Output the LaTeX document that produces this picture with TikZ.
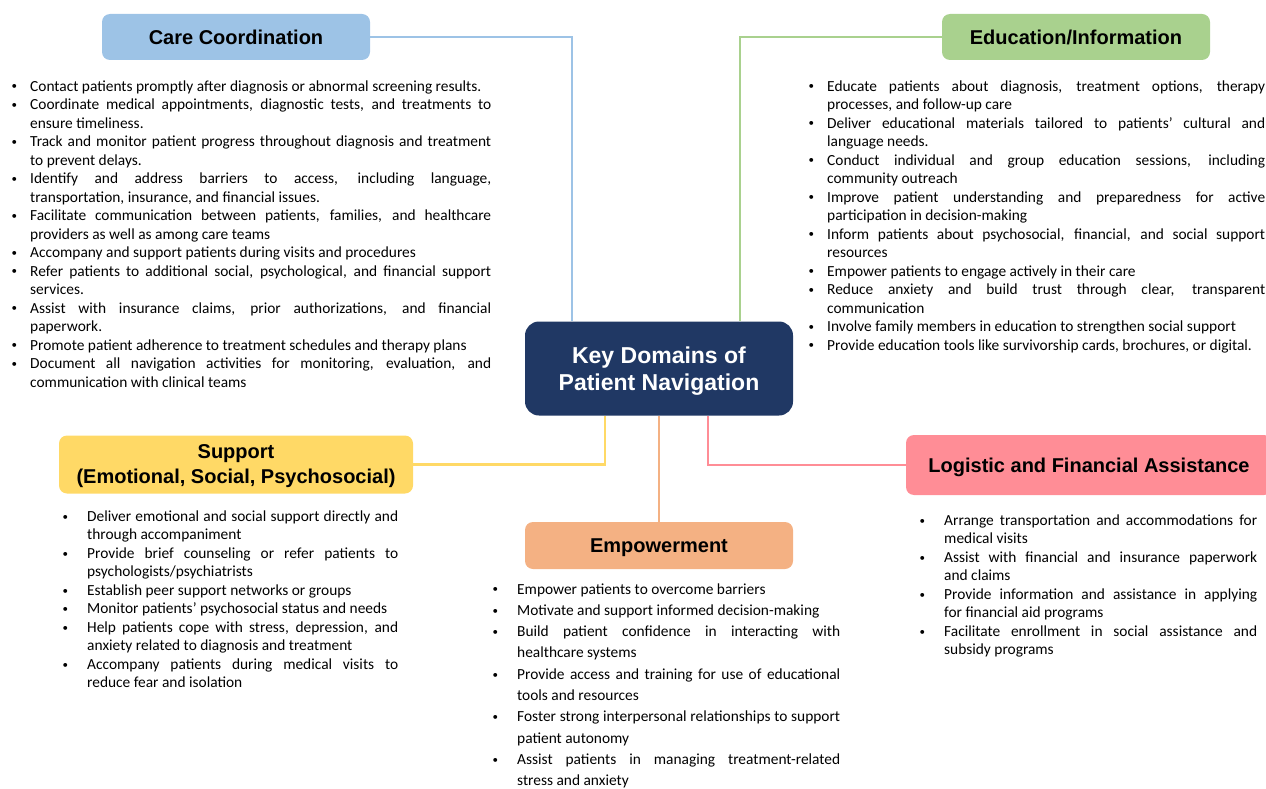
\documentclass[tikz,border=0pt]{standalone}
\usepackage{fontspec}
\setmainfont{Carlito}
\newfontfamily\headfont{Liberation Sans}
\usepackage{xcolor}
\definecolor{ccare}{HTML}{9DC3E6}
\definecolor{cedu}{HTML}{A9D18E}
\definecolor{ckey}{HTML}{203864}
\definecolor{csupport}{HTML}{FFD966}
\definecolor{cempower}{HTML}{F4B183}
\definecolor{clogistic}{HTML}{FF8D96}

% bullet item with hanging indent
\newlength{\navindent}
\newcommand{\navbullet}{\hspace*{1.5pt}\raisebox{1.2pt}{\fontsize{11}{11}\selectfont\textbullet}}
\newcommand{\navitem}[1]{\par\hangindent=\navindent\hangafter=1\noindent\makebox[\navindent][l]{\navbullet}#1\par}

\begin{document}
\begin{tikzpicture}[
    x=1pt, y=-1pt,
    domain/.style={
      rectangle, rounded corners=8pt,
      fill=#1, inner sep=0pt, text depth=0pt,
      text=black, align=center,
      font=\headfont\bfseries\fontsize{20}{25}\selectfont
    },
    hub/.style={
      rectangle, rounded corners=14pt,
      fill=ckey, inner sep=0pt, text depth=0pt,
      text=white, align=center,
      font=\headfont\bfseries\fontsize{23}{27}\selectfont
    },
    items/.style 2 args={
      anchor=north west, inner sep=0pt,
      text width=#1, align=justify,
      font=\fontsize{15.4}{18.5}\selectfont,
      execute at begin node={\setlength{\navindent}{#2}\hyphenpenalty=10000\exhyphenpenalty=10000\tolerance=10000}
    },
    link/.style={
      draw=#1, line width=2.5pt
    }
  ]
  \clip (0,0) rectangle (1266,789);

  % ---- Central node ----
  \node[hub, minimum width=268pt, minimum height=94pt] (KEY) at (659,368.5)
    {Key Domains of\\Patient Navigation};

  % ---- Domain headers ----
  \node[domain=ccare, minimum width=268pt, minimum height=46pt] (CARE) at (236,37)
    {Care Coordination};
  \node[domain=cedu, minimum width=268pt, minimum height=46pt] (EDU) at (1076,37)
    {Education/Information};
  \node[domain=csupport, minimum width=354pt, minimum height=58pt] (SUP) at (236,464.5)
    {Support\\(Emotional, Social, Psychosocial)};
  \node[domain=cempower, minimum width=268pt, minimum height=47pt] (EMP) at (659,545.5)
    {Empowerment};
  \node[domain=clogistic, minimum width=366pt, minimum height=60pt] (LOG) at (1089,465)
    {Logistic and Financial Assistance};

  % ---- Connectors to the central node ----
  \draw[link=ccare]     (CARE.east) -| ([xshift=-87pt]KEY.north);
  \draw[link=cedu]      (EDU.west)  -| ([xshift=81pt]KEY.north);
  \draw[link=csupport]  (SUP.east)  -| ([xshift=-54pt]KEY.south);
  \draw[link=cempower]  (KEY.south) -- (EMP.north);
  \draw[link=clogistic] (LOG.west)  -| ([xshift=49pt]KEY.south);

  % ---- Care Coordination items ----
  \node[items={481pt}{20pt}] (CARELIST) at (10,72.5) {%
    \navitem{Contact patients promptly after diagnosis or abnormal screening results.}
    \navitem{Coordinate medical appointments, diagnostic tests, and treatments to\linebreak ensure timeliness.}
    \navitem{Track and monitor patient progress throughout diagnosis and treatment\linebreak to prevent delays.}
    \navitem{Identify and address barriers to access, including language,\linebreak transportation, insurance, and financial issues.}
    \navitem{Facilitate communication between patients, families, and healthcare\linebreak providers as well as among care teams}
    \navitem{Accompany and support patients during visits and procedures}
    \navitem{Refer patients to additional social, psychological, and financial support\linebreak services.}
    \navitem{Assist with insurance claims, prior authorizations, and financial\linebreak paperwork.}
    \navitem{Promote patient adherence to treatment schedules and therapy plans}
    \navitem{Document all navigation activities for monitoring, evaluation, and\linebreak communication with clinical teams}};

  % ---- Education/Information items ----
  \node[items={458pt}{20pt}] (EDULIST) at (807,72.5) {%
    \navitem{Educate patients about diagnosis, treatment options, therapy\linebreak processes, and follow-up care}
    \navitem{Deliver educational materials tailored to patients’ cultural and\linebreak language needs.}
    \navitem{Conduct individual and group education sessions, including\linebreak community outreach}
    \navitem{Improve patient understanding and preparedness for active\linebreak participation in decision-making}
    \navitem{Inform patients about psychosocial, financial, and social support\linebreak resources}
    \navitem{Empower patients to engage actively in their care}
    \navitem{Reduce anxiety and build trust through clear, transparent\linebreak communication}
    \navitem{Involve family members in education to strengthen social support}
    \navitem{Provide education tools like survivorship cards, brochures, or digital.}};

  % ---- Support items ----
  \node[items={337pt}{26pt}] (SUPLIST) at (61,502.5) {%
    \navitem{Deliver emotional and social support directly and\linebreak through accompaniment}
    \navitem{Provide brief counseling or refer patients to\linebreak psychologists/psychiatrists}
    \navitem{Establish peer support networks or groups}
    \navitem{Monitor patients’ psychosocial status and needs}
    \navitem{Help patients cope with stress, depression, and\linebreak anxiety related to diagnosis and treatment}
    \navitem{Accompany patients during medical visits to\linebreak reduce fear and isolation}};

  % ---- Empowerment items ----
  \node[items={349pt}{26pt}, font=\fontsize{15.4}{21.3}\selectfont] (EMPLIST) at (491,572.5) {%
    \navitem{Empower patients to overcome barriers}
    \navitem{Motivate and support informed decision-making}
    \navitem{Build patient confidence in interacting with\linebreak healthcare systems}
    \navitem{Provide access and training for use of educational\linebreak tools and resources}
    \navitem{Foster strong interpersonal relationships to support\linebreak patient autonomy}
    \navitem{Assist patients in managing treatment-related\linebreak stress and anxiety}};

  % ---- Logistic items ----
  \node[items={339pt}{26pt}] (LOGLIST) at (918,506.5) {%
    \navitem{Arrange transportation and accommodations for\linebreak medical visits}
    \navitem{Assist with financial and insurance paperwork\linebreak and claims}
    \navitem{Provide information and assistance in applying\linebreak for financial aid programs}
    \navitem{Facilitate enrollment in social assistance and\linebreak subsidy programs}};

\end{tikzpicture}
\end{document}
